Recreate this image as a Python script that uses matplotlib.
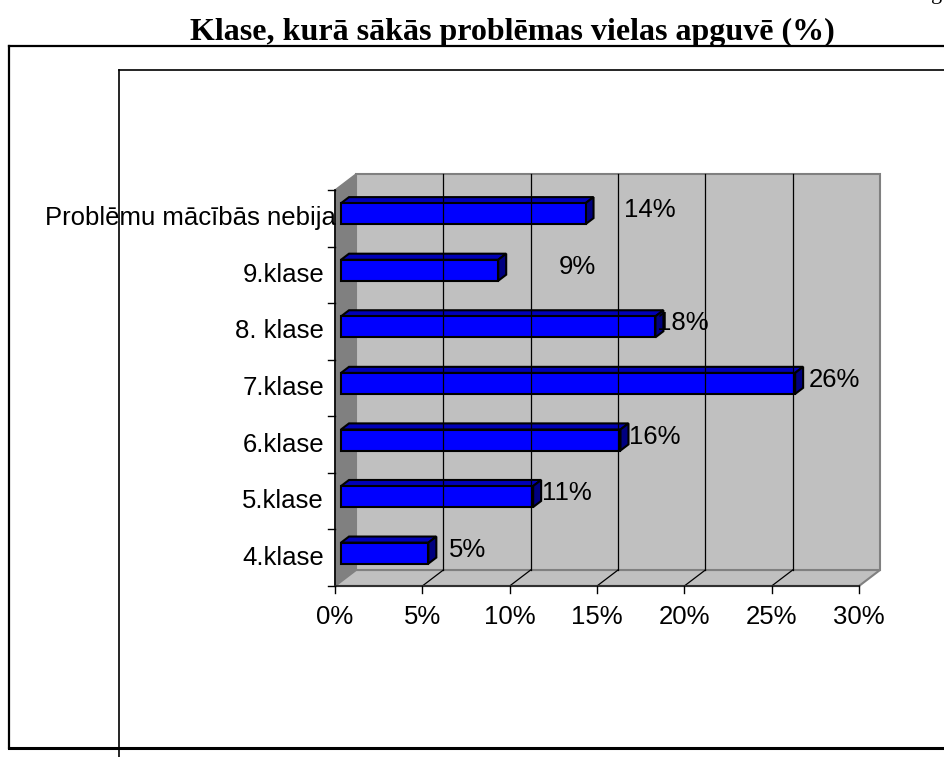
import matplotlib
matplotlib.use("Agg")
import matplotlib.pyplot as plt
from matplotlib.patches import Polygon, Rectangle
from matplotlib.lines import Line2D
from matplotlib.transforms import offset_copy

# ---- data ----
categories = ["4.klase", "5.klase", "6.klase", "7.klase", "8. klase", "9.klase", "Problēmu mācībās nebija"]
values = [5, 11, 16, 26, 18, 9, 14]
value_labels = ["5%", "11%", "16%", "26%", "18%", "9%", "14%"]
x_ticks = [0, 5, 10, 15, 20, 25, 30]
x_tick_labels = ["0%", "5%", "10%", "15%", "20%", "25%", "30%"]
title = "Klase, kurā sākās problēmas vielas apguvē (%)"

# ---- style (label placement offsets in value units, as in original) ----
label_shift = [2.6, 2.3, 2.3, 2.6, 1.9, 4.9, 4.0]

W, H = 944, 757
DPI = 100
fig = plt.figure(figsize=(W / DPI, H / DPI), dpi=DPI)
fig.patch.set_facecolor("white")

def fx(px):
    return px / W

def fy(py):
    return 1 - py / H

# front plane of plot in pixels
L, R, T, B = 335, 859, 190, 586
ax = fig.add_axes([fx(L), fy(B), (R - L) / W, (B - T) / H])
ax.set_xlim(0, 30)
ax.set_ylim(0, len(categories))
ax.axis("off")

n = len(categories)
xmax = 30
DX = 21 / ((R - L) / 30)      # depth offset in x (data units)
DY = 16 / ((B - T) / n)       # depth offset in y (data units)

sans = ["Liberation Sans", "DejaVu Sans"]
fs = 18.5
kw = dict(clip_on=False)

# left wall
ax.add_patch(Polygon([(0, 0), (0, n), (DX, n + DY), (DX, DY)], closed=True,
                     facecolor="#808080", edgecolor="#808080", lw=1, **kw))
# floor
ax.add_patch(Polygon([(0, 0), (xmax, 0), (xmax + DX, DY), (DX, DY)], closed=True,
                     facecolor="#C0C0C0", edgecolor="#808080", lw=1.5, **kw))
# back wall
ax.add_patch(Polygon([(DX, DY), (xmax + DX, DY), (xmax + DX, n + DY), (DX, n + DY)], closed=True,
                     facecolor="#C0C0C0", edgecolor="#808080", lw=1.5, **kw))
# gridlines on back wall and floor
for t in x_ticks[1:-1]:
    ax.add_line(Line2D([t + DX, t + DX], [DY, n + DY], color="black", lw=0.9, **kw))
    ax.add_line(Line2D([t, t + DX], [0, DY], color="black", lw=0.9, **kw))

# axes lines
ax.add_line(Line2D([0, 0], [0, n], color="black", lw=1.2, **kw))
ax.add_line(Line2D([0, xmax], [0, 0], color="#303030", lw=1.5, **kw))

tick_dx = 7 / ((R - L) / 30)
tick_dy = 7 / ((B - T) / n)
for i in range(n + 1):
    ax.add_line(Line2D([-tick_dx, 0], [i, i], color="black", lw=1, **kw))
for t, lab in zip(x_ticks, x_tick_labels):
    ax.add_line(Line2D([t, t], [0, -tick_dy], color="black", lw=1, **kw))
    ax.text(t, 0, lab, transform=offset_copy(ax.transData, fig, x=0, y=-31, units="dots"),
            ha="center", va="center", fontsize=fs, family=sans)

# category labels
for i, c in enumerate(categories):
    xoff = -11 if len(c) < 12 else 1
    ax.text(0, i + 0.5, c, transform=offset_copy(ax.transData, fig, x=xoff, y=0, units="dots"),
            ha="right", va="center", fontsize=fs, family=sans)

# bars
f0 = 6 / 21
ox, oy = f0 * DX, f0 * DY
fd = 8 / 21
bdx, bdy = fd * DX, fd * DY
bh = 21 / ((B - T) / n)
for i, v in enumerate(values):
    y0 = i + 0.5 + oy - bh / 2
    y1 = y0 + bh
    x0 = ox
    x1 = v + ox
    ax.add_patch(Polygon([(x0, y1), (x1, y1), (x1 + bdx, y1 + bdy), (x0 + bdx, y1 + bdy)],
                         closed=True, facecolor="#0000B8", edgecolor="black", lw=1.5, **kw))
    ax.add_patch(Polygon([(x1, y0), (x1 + bdx, y0 + bdy), (x1 + bdx, y1 + bdy), (x1, y1)],
                         closed=True, facecolor="#000080", edgecolor="black", lw=1.5, **kw))
    ax.add_patch(Rectangle((x0, y0), v, bh, facecolor="#0000FF", edgecolor="black", lw=1.5, **kw))
    ax.text(v + label_shift[i], i + 0.5 + oy + 0.06, value_labels[i], ha="center", va="center",
            fontsize=fs, family=sans, clip_on=False)

# title
fig.text(fx(512), fy(32), title, ha="center", va="center", fontsize=23,
         family=["Liberation Serif", "DejaVu Serif"], fontweight="bold")
fig.text(fx(937), fy(-1), "g", ha="center", va="baseline", fontsize=16,
         family=["Liberation Serif", "DejaVu Serif"])

# frames
fig.add_artist(Line2D([fx(9), fx(9)], [fy(46), fy(748)], color="black", lw=1.6, transform=fig.transFigure))
fig.add_artist(Line2D([fx(9), fx(960)], [fy(46), fy(46)], color="black", lw=1.6, transform=fig.transFigure))
fig.add_artist(Line2D([fx(9), fx(960)], [fy(748), fy(748)], color="black", lw=2.2, transform=fig.transFigure))
fig.add_artist(Line2D([fx(119), fx(119)], [fy(70), fy(770)], color="black", lw=1.2, transform=fig.transFigure))
fig.add_artist(Line2D([fx(119), fx(960)], [fy(70), fy(70)], color="black", lw=1.2, transform=fig.transFigure))

fig.savefig("out.png", dpi=DPI)
